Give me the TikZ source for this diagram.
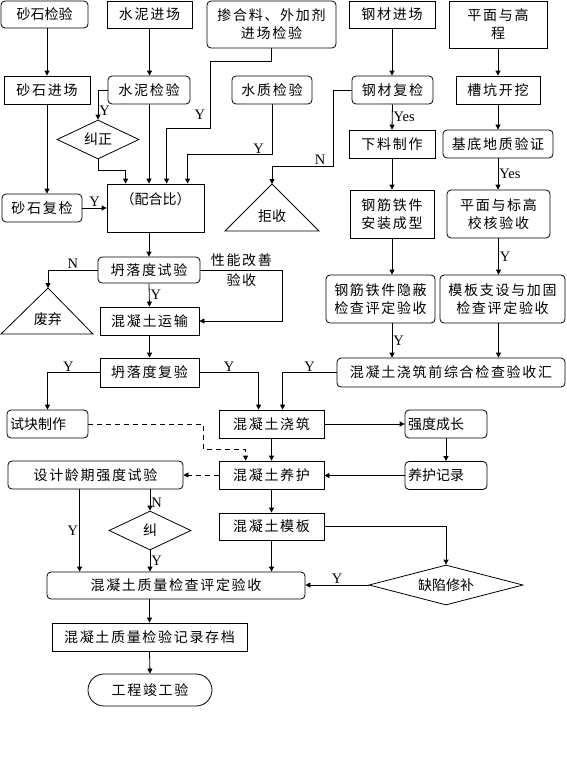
\documentclass[tikz,border=0pt]{standalone}
\usepackage{fontspec}
\setmainfont{Noto Sans CJK SC}[LetterSpace=12]
\newfontfamily\tight{Noto Sans CJK SC}
\newfontfamily\yn{Liberation Serif}
\usetikzlibrary{shapes.geometric, arrows.meta, positioning}

\begin{document}
\begin{tikzpicture}[x=1pt, y=-1pt, line width=0.8pt, >={Triangle[length=5pt,width=5pt]},
    font=\fontsize{14pt}{18pt}\selectfont,
    box/.style={draw, rectangle, align=center, inner sep=0pt, minimum height=28pt},
    rbox/.style={box, rounded corners=4pt},
    lrbox/.style={rbox, align=left, inner xsep=3pt},
    dia/.style={draw, diamond, inner sep=0pt, aspect=2},
    lbl/.style={font=\yn\fontsize{14.5pt}{16pt}\selectfont, inner sep=1pt},
    dline/.style={dash pattern=on 5pt off 4pt}]

    \useasboundingbox (0,0) rectangle (566,780);

    % top row
    \node [rbox, minimum width=87pt, minimum height=27pt] (sjy) at (44.5,14.5) {\tight 砂石检验};
    \node [box, minimum width=85pt, minimum height=27pt] (snjc) at (149.5,14.5) {水泥进场};
    \node [rbox, minimum width=129pt, minimum height=47pt] (chl) at (271.5,24.5) {掺合料、外加剂\\进场检验};
    \node [box, minimum width=86pt, minimum height=27pt] (gcjc) at (392,14.5) {钢材进场};
    \node [box, minimum width=98pt, minimum height=47pt] (pmgc) at (498,24.5) {平面与高\\程};

    \node [box, minimum width=86pt] (sjc) at (47,90) {砂石进场};
    \node [rbox, minimum width=82pt] (snjy) at (149,90) {水泥检验};
    \node [rbox, minimum width=80pt] (szjy) at (272,90) {水质检验};
    \node [rbox, minimum width=81pt] (gcfj) at (392.5,90) {钢材复检};
    \node [box, minimum width=84pt] (cgkw) at (498,90) {槽坑开挖};

    \node [dia, minimum width=82pt, minimum height=39pt] (jz) at (98,139.5) {\tight 纠正};
    \node [box, minimum width=86pt] (xlzz) at (392,144) {下料制作};
    \node [rbox, minimum width=110pt] (jddz) at (498,144) {基底地质验证};

    \node [box, minimum width=97pt, minimum height=48pt, text height=20pt, text depth=28pt] (mix) at (155.5,208) {\tight （配合比）};
    \node [rbox, minimum width=80pt] (sfj) at (42,208) {砂石复检};
    \coordinate (jqtop) at (272,184);
    \draw (jqtop) -- ++(-47,47) -- ++(94,0) -- cycle;
    \node (jq) at (272,216) {\tight 拒收};
    \node [box, minimum width=84pt, minimum height=48pt] (gjaz) at (392,214) {钢筋铁件\\安装成型};
    \node [rbox, minimum width=103pt, minimum height=48pt] (pmbg) at (498.5,214) {平面与标高\\校核验收};

    \node [rbox, minimum width=102pt, minimum height=26pt] (tld) at (149,270) {坍落度试验};
    \coordinate (fqtop) at (48,288);
    \draw (fqtop) -- ++(-47,46) -- ++(92,0) -- cycle;
    \node (fq) at (48,319) {\tight 废弃};
    \node [box, minimum width=99pt] (ys) at (149.5,321) {混凝土运输};
    \node [rbox, minimum width=109pt, minimum height=48pt] (gjyb) at (380.5,299) {钢筋铁件隐蔽\\检查评定验收};
    \node [rbox, minimum width=125pt, minimum height=48pt] (mbzs) at (502.5,299) {模板支设与加固\\检查评定验收};

    \node [rbox, minimum width=228pt, minimum height=29pt] (hz) at (451,372.5) {混凝土浇筑前综合检查验收汇};
    \node [box, minimum width=99pt, minimum height=29pt] (tldf) at (149.5,372.5) {坍落度复验};

    \node [lrbox, text width=75pt] (skzz) at (47.5,424) {\tight 试块制作};
    \node [box, minimum width=105pt] (jzz) at (271.5,424) {混凝土浇筑};
    \node [lrbox, text width=76pt] (qdcz) at (446,424) {\tight 强度成长};
    \node [box, minimum width=105pt] (yh) at (271.5,475) {混凝土养护};
    \node [lrbox, text width=76pt] (yhjl) at (446,475.5) {\tight 养护记录};
    \node [rbox, minimum width=175pt] (sjlq) at (95.5,475) {设计龄期强度试验};
    \node [box, minimum width=105pt, minimum height=27pt] (mb) at (271.5,526.5) {混凝土模板};
    \node [dia, minimum width=82pt, minimum height=39pt] (jiu) at (150,530.5) {\tight 纠};
    \node [dia, minimum width=154pt, minimum height=40pt, aspect=4] (qx) at (446,585) {\tight 缺陷修补};
    \node [rbox, minimum width=258pt, minimum height=27pt] (zl) at (176,585.5) {混凝土质量检查评定验收};
    \node [box, minimum width=195pt] (jlcd) at (149.5,637) {混凝土质量检验记录存档};
    \node [box, rounded corners=16pt, minimum width=124pt, minimum height=32pt] (jg) at (150,690) {工程竣工验};
    \coordinate (sjlqy) at ([xshift=72pt]sjlq.south west);

    % materials
    \draw [->] (sjy.south -| sjc.north) -- (sjc.north);
    \draw [->] (snjc.south) -- (snjc.south |- snjy.north);
    \draw [->] (gcjc.south) -- (gcjc.south |- gcfj.north);
    \draw [->] (pmgc.south) -- (cgkw.north);
    \draw [->] (snjy.west) -| node[pos=0.85, right, lbl] {Y} (jz.north);
    \draw [->] (jz.south) -- ++(0,11) -| ([xshift=19pt]mix.north west);
    \draw [->] (snjy.south) -- (snjy.south |- mix.north);
    \draw [->] (chl.south) -- ++(0,13) -| node[pos=0.9, left, lbl, xshift=-4pt] {Y} ++(-61,67) -| ([xshift=60pt]mix.north west);
    \draw [->] (szjy.south) -- ++(0,50) -| node[pos=0.08, above, lbl] {Y} ([xshift=81pt]mix.north west);
    \draw [->] (gcfj.west) -| ++(-18,76) -| node[pos=0.11, above, lbl] {N} (jqtop);
    \draw [->] (sjc.south) -- (sjc.south |- sfj.north);
    \draw [->] (sfj.east) -- node[above, lbl] {Y} (sfj.east -| mix.west);

    % concrete
    \draw [->] (tld.north |- mix.south) -- (tld.north);
    \draw [->] (tld.west) -| node[pos=0.25, above, lbl] {N} (fqtop);
    \draw [->] (tld.south) -- node[right, lbl] {Y} (ys.north);
    \draw [->] (tld.east) -- node[align=center] {性能改善\\[2pt]验收} ++(82,0) |- (ys.east);
    \draw [->] (ys.south) -- (tldf.north);

    % steel and formwork
    \draw [->] (gcfj.south) -- node[right, lbl] {Yes} (xlzz.north);
    \draw [->] (cgkw.south) -- (jddz.north);
    \draw [->] (xlzz.south) -- (gjaz.north);
    \draw [->] (jddz.south) -- node[right, lbl] {Yes} (jddz.south |- pmbg.north);
    \draw [->] (gjaz.south) -- (gjaz.south |- gjyb.north);
    \draw [->] (pmbg.south) -- node[right, lbl] {Y} (pmbg.south |- mbzs.north);
    \draw [->] (gjaz.south |- gjyb.south) -- node[right, lbl] {Y} (gjaz.south |- hz.north);
    \draw [->] (pmbg.south |- mbzs.south) -- (pmbg.south |- hz.north);

    % pouring and curing
    \draw [->] (tldf.west) -| node[pos=0.3, above, lbl] {Y} (skzz.north);
    \draw [->] (tldf.east) -| node[pos=0.25, above, lbl] {Y} ([xshift=40pt]jzz.north west);
    \draw [->] (hz.west) -| node[pos=0.25, above, lbl] {Y} ([xshift=64pt]jzz.north west);
    \draw [->, dline] (skzz.east) -| ++(115,25) -| ([xshift=27pt]yh.north west);
    \draw [->] (jzz.south) -- (yh.north);
    \draw [->] (jzz.east) -- (qdcz.west);
    \draw [->] (qdcz.south) -- (yhjl.north);
    \draw [->] (yhjl.west) -- (yhjl.west -| yh.east);
    \draw [->, dline] (yh.west) -- (sjlq.east);
    \draw [->] (yh.south) -- (mb.north);

    % acceptance
    \draw [->] (jiu.north |- sjlq.south) -- node[pos=0.65, right, lbl] {N} (jiu.north);
    \draw [->] (sjlqy) -- node[left, lbl] {Y} (sjlqy |- zl.north);
    \draw [->] (jiu.south) -- node[right, lbl] {Y} (jiu.south |- zl.north);
    \draw [->] (mb.south) -- (mb.south |- zl.north);
    \draw [->] (mb.east) -| (qx.north);
    \draw [->] (qx.west) -- node[above, lbl] {Y} (qx.west -| zl.east);
    \draw [->] (jlcd.north |- zl.south) -- (jlcd.north);
    \draw [->] (jlcd.south) -- (jg.north);
\end{tikzpicture}
\end{document}
